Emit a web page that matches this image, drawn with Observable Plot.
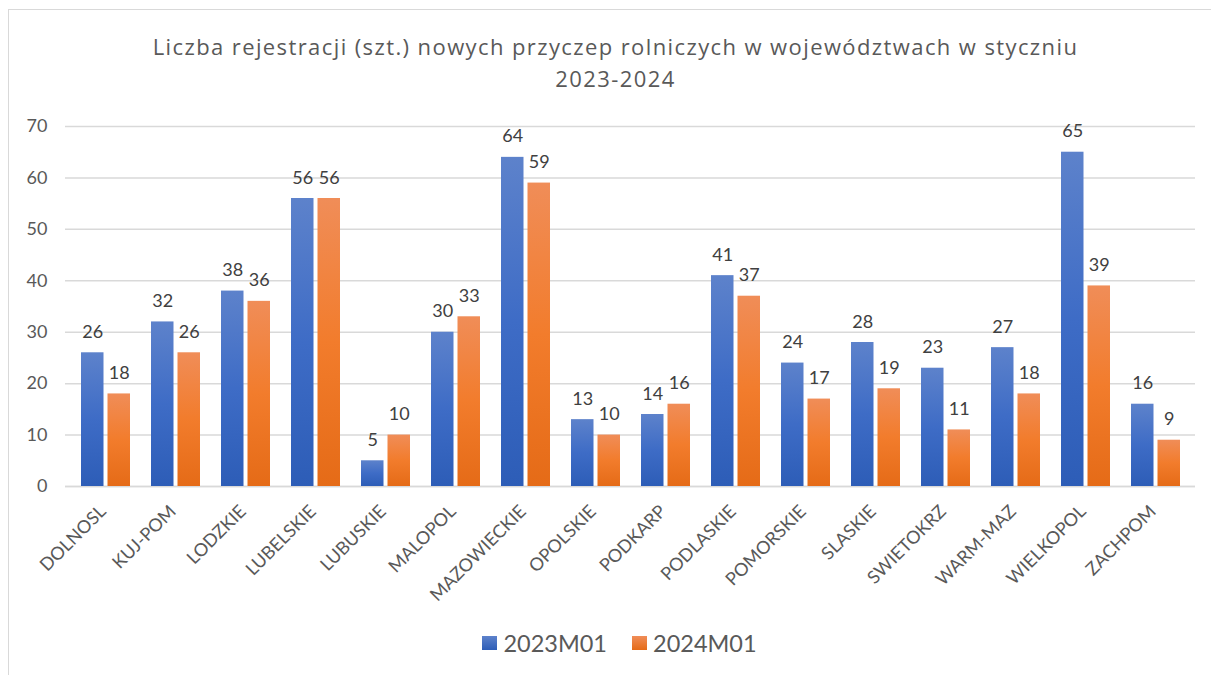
<!DOCTYPE html>
<html>
<head>
<meta charset="utf-8">
<script src="https://cdn.jsdelivr.net/npm/d3@7"></script>
<script src="https://cdn.jsdelivr.net/npm/@observablehq/plot@0.6"></script>
<style>
  html, body { margin: 0; padding: 0; background: #fff; }
  #wrap { position: relative; width: 1211px; height: 675px; overflow: hidden; font-family: Lato, "Open Sans", sans-serif; }
  #frame { position: absolute; left: 8px; top: 9px; width: 1300px; height: 800px; border-left: 1.5px solid #d9d9d9; border-top: 1.5px solid #d9d9d9; }
  #title { position: absolute; left: 10px; top: 30px; width: 1211px; text-align: center; color: #595959; font-family: "Open Sans", Lato, sans-serif; font-size: 22px; letter-spacing: 1.4px; line-height: 32px; }
  #chart { position: absolute; left: 0; top: 100px; }
  #legend { position: absolute; left: 14px; top: 629px; width: 1211px; display: flex; justify-content: center; gap: 25px; color: #595959; font-size: 23.5px; }
  .item { display: flex; align-items: center; gap: 6px; }
  .sw { width: 15px; height: 14px; display: inline-block; }
</style>
</head>
<body>
<div id="wrap">
  <div id="frame"></div>
  <div id="title">Liczba rejestracji (szt.) nowych przyczep rolniczych w województwach w styczniu<br>2023-2024</div>
  <div id="chart"></div>
  <div id="legend"></div>
</div>
<script>
const categories = ["DOLNOSL","KUJ-POM","LODZKIE","LUBELSKIE","LUBUSKIE","MALOPOL","MAZOWIECKIE","OPOLSKIE","PODKARP","PODLASKIE","POMORSKIE","SLASKIE","SWIETOKRZ","WARM-MAZ","WIELKOPOL","ZACHPOM"];
const values2023 = [26,32,38,56,5,30,64,13,14,41,24,28,23,27,65,16];
const values2024 = [18,26,36,56,10,33,59,10,16,37,17,19,11,18,39,9];
const seriesNames = ["2023M01","2024M01"];
const yTicks = [0,10,20,30,40,50,60,70];

const rows2023 = categories.map((c, i) => ({cat: c, value: values2023[i], series: seriesNames[0]}));
const rows2024 = categories.map((c, i) => ({cat: c, value: values2024[i], series: seriesNames[1]}));

const defsMark = () => {
  const g = d3.create("svg:g");
  const defs = g.append("defs");
  const gb = defs.append("linearGradient").attr("id", "gBlue").attr("x1", 0).attr("y1", 0).attr("x2", 0).attr("y2", 1);
  gb.append("stop").attr("offset", "0%").attr("stop-color", "#5d82cb");
  gb.append("stop").attr("offset", "50%").attr("stop-color", "#3e6cc6");
  gb.append("stop").attr("offset", "100%").attr("stop-color", "#2d5db7");
  const go = defs.append("linearGradient").attr("id", "gOrange").attr("x1", 0).attr("y1", 0).attr("x2", 0).attr("y2", 1);
  go.append("stop").attr("offset", "0%").attr("stop-color", "#f08d58");
  go.append("stop").attr("offset", "50%").attr("stop-color", "#f27c2c");
  go.append("stop").attr("offset", "100%").attr("stop-color", "#e56b17");
  const f = defs.append("filter").attr("id", "shadow").attr("x", "-20%").attr("y", "-5%").attr("width", "150%").attr("height", "115%");
  f.append("feDropShadow").attr("dx", 1.5).attr("dy", 1).attr("stdDeviation", 1.2).attr("flood-color", "#000").attr("flood-opacity", 0.3);
  return g.node();
};

const half = 13.25;
const chart = Plot.plot({
  width: 1211,
  height: 520,
  marginTop: 26,
  marginBottom: 134,
  marginLeft: 65,
  marginRight: 16,
  style: { fontFamily: "Lato, 'Open Sans', sans-serif", color: "#595959", background: "transparent" },
  x: { domain: categories, paddingInner: 0.306, paddingOuter: 0.153 },
  y: { domain: [0, 70] },
  marks: [
    defsMark,
    Plot.gridY(yTicks, { stroke: "#d9d9d9", strokeOpacity: 1, strokeWidth: 1.5 }),
    Plot.axisY(yTicks, { tickSize: 0, tickPadding: 18, fontSize: 18, fill: "#595959", label: null }),
    Plot.axisX({ tickSize: 0, tickRotate: -45, tickPadding: 22, dx: -3, fontSize: 18, fill: "#595959", label: null }),
    Plot.ruleY([0], { stroke: "#d9d9d9", strokeWidth: 1.5 }),
    Plot.barY(rows2023, { x: "cat", y: "value", fill: "url(#gBlue)", insetRight: 26.5 }),
    Plot.barY(rows2024, { x: "cat", y: "value", fill: "url(#gOrange)", insetLeft: 26.5 }),
    Plot.text(rows2023, { x: "cat", y: "value", text: d => String(d.value), dx: -half, dy: -15, lineAnchor: "bottom", fontSize: 18, fill: "#404040" }),
    Plot.text(rows2024, { x: "cat", y: "value", text: d => String(d.value), dx: half, dy: -15, lineAnchor: "bottom", fontSize: 18, fill: "#404040" })
  ]
});
d3.select(chart).selectAll("rect").filter(function() { return /url\(#g/.test(this.getAttribute("fill") || ""); }).attr("filter", "url(#shadow)");
document.getElementById("chart").appendChild(chart);

const legend = d3.select("#legend");
seriesNames.forEach((s, i) => {
  const it = legend.append("div").attr("class", "item");
  it.append("span").attr("class", "sw").style("background", i === 0 ? "linear-gradient(#5d82cb, #2d5db7)" : "linear-gradient(#f08d58, #e56b17)");
  it.append("span").text(s);
});
</script>
</body>
</html>
